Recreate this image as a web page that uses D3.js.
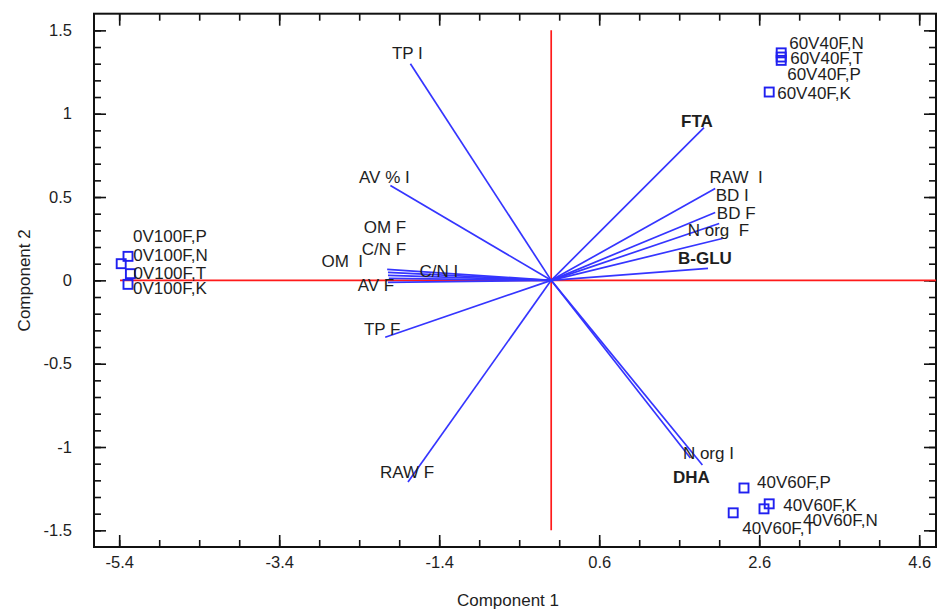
<html>
<head>
  <script src="https://d3js.org/d3.v7.min.js"></script>
  <style>
    body { margin: 0; background: #fff; }
    text { font-family: "Liberation Sans", Arial, sans-serif; fill: #1e1e1e; }
    .axis line { stroke: #111; stroke-width: 1.6px; }
    .axis .domain { stroke: none; }
    .axis text { font-size: 16.5px; }
    .frame { fill: none; stroke: #111; stroke-width: 2px; }
    .vec { stroke: #3535ff; stroke-width: 1.7px; }
    .ref { stroke: #ff1a1a; stroke-width: 1.7px; }
    .obs { fill: none; stroke: #2020f0; stroke-width: 1.9px; }
    .lbl { font-size: 17px; white-space: pre; }
  </style>
</head>
<body>
  <svg id="biplot" width="938" height="610"></svg>
  <script>
    // variable loadings (Component 1, Component 2)
    const varNames = ["TP I", "AV % I", "FTA", "RAW  I", "BD I", "BD F", "N org  F", "B-GLU",
      "OM F", "C/N F", "OM  I", "AV F", "C/N I", "TP F", "RAW F", "N org I", "DHA"];
    const varComp1 = [-1.76, -2.01, 1.91, 2.05, 2.05, 2.10, 2.14, 1.96,
      -2.04, -2.04, -2.05, -2.04, -2.03, -2.075, -1.79, 1.74, 1.89];
    const varComp2 = [1.30, 0.569, 0.916, 0.551, 0.407, 0.341, 0.251, 0.072,
      0.048, 0.03, 0.066, -0.012, 0.012, -0.341, -1.21, -1.066, -1.108];
    const boldVars = ["FTA", "B-GLU", "DHA"];

    // observation scores
    const obsNames = ["60V40F,N", "60V40F,T", "60V40F,P", "60V40F,K",
      "0V100F,P", "0V100F,N", "0V100F,T", "0V100F,K",
      "40V60F,P", "40V60F,K", "40V60F,N", "40V60F,T"];
    const obsComp1 = [2.875, 2.875, 2.875, 2.725, -5.29, -5.375, -5.26, -5.29, 2.41, 2.725, 2.66, 2.275];
    const obsComp2 = [1.365, 1.34, 1.32, 1.13, 0.144, 0.10, 0.04, -0.024, -1.246, -1.341, -1.371, -1.395];

    // axis ticks
    const xTickLabels = [-5.4, -3.4, -1.4, 0.6, 2.6, 4.6];
    const yTickLabels = [-1.5, -1, -0.5, 0, 0.5, 1, 1.5];

    // red reference axes
    const refHoriz = [-5.39, 4.81];
    const refVert = [-1.5, 1.5];

    // label nudges in px so the texts don't pile up (layout only)
    const varNudge = {
      "TP I": [-3, -1], "AV % I": [-6, 2], "FTA": [-7, 3], "RAW  I": [21, -1], "BD I": [17, -7],
      "BD F": [17, 0], "N org  F": [-4, 2], "B-GLU": [-3, 0], "OM F": [-3, -35], "C/N F": [-4, -16],
      "OM  I": [-45, 2], "AV F": [-12, 13], "C/N I": [50, 3], "TP F": [-3, 2], "RAW F": [-1, 0],
      "N org I": [18, 5], "DHA": [-11, 22]
    };
    const obsNudge = {
      "60V40F,N": [0, -10], "60V40F,T": [1, 1], "60V40F,P": [-2, 14], "60V40F,K": [0, 1],
      "0V100F,P": [-3, -20], "0V100F,N": [4, -9], "0V100F,T": [-5, -1], "0V100F,K": [-3, 4],
      "40V60F,P": [5, -6], "40V60F,K": [6, 1], "40V60F,N": [31, 11], "40V60F,T": [1, 15]
    };

    const svg = d3.select("svg#biplot");
    const box = { left: 94, right: 936, top: 13.7, bottom: 547 };

    const x = d3.scaleLinear().domain([-5.715, 4.81]).range([box.left, box.right]);
    const y = d3.scaleLinear().domain([-1.6, 1.6]).range([box.bottom, box.top]);

    const xMinor = d3.range(0, 21).map(i => -5.4 + i * 0.5).filter(v => v < 4.8);
    const yMinor = d3.range(-15, 16).map(i => i / 10);

    // ticks on all four sides, pointing inward
    const axes = svg.append("g").attr("class", "axis-all");

    axes.append("g").attr("class", "axis")
      .attr("transform", `translate(0,${box.bottom})`)
      .call(d3.axisBottom(x).tickValues(xMinor).tickSize(-7).tickFormat(""));
    axes.append("g").attr("class", "axis")
      .attr("transform", `translate(0,${box.bottom})`)
      .call(d3.axisBottom(x).tickValues(xTickLabels).tickSize(-12).tickPadding(9).tickFormat(d => String(d)));
    axes.append("g").attr("class", "axis")
      .attr("transform", `translate(0,${box.top})`)
      .call(d3.axisTop(x).tickValues(xMinor).tickSize(-7).tickFormat(""));
    axes.append("g").attr("class", "axis")
      .attr("transform", `translate(0,${box.top})`)
      .call(d3.axisTop(x).tickValues(xTickLabels).tickSize(-12).tickFormat(""));

    axes.append("g").attr("class", "axis")
      .attr("transform", `translate(${box.left},0)`)
      .call(d3.axisLeft(y).tickValues(yMinor).tickSize(-7).tickFormat(""));
    axes.append("g").attr("class", "axis")
      .attr("transform", `translate(${box.left},0)`)
      .call(d3.axisLeft(y).tickValues(yTickLabels).tickSize(-12).tickPadding(22).tickFormat(d => String(d)));
    axes.append("g").attr("class", "axis")
      .attr("transform", `translate(${box.right},0)`)
      .call(d3.axisRight(y).tickValues(yMinor).tickSize(-7).tickFormat(""));
    axes.append("g").attr("class", "axis")
      .attr("transform", `translate(${box.right},0)`)
      .call(d3.axisRight(y).tickValues(yTickLabels).tickSize(-12).tickFormat(""));

    svg.append("rect").attr("class", "frame")
      .attr("x", box.left).attr("y", box.top)
      .attr("width", box.right - box.left).attr("height", box.bottom - box.top);

    // red reference lines through origin
    svg.append("line").attr("class", "ref")
      .attr("x1", x(refHoriz[0])).attr("x2", x(refHoriz[1]))
      .attr("y1", y(0)).attr("y2", y(0));
    svg.append("line").attr("class", "ref")
      .attr("x1", x(0)).attr("x2", x(0))
      .attr("y1", y(refVert[0])).attr("y2", y(refVert[1]));

    const vars = varNames.map((n, i) => ({ name: n, c1: varComp1[i], c2: varComp2[i] }));
    const obs = obsNames.map((n, i) => ({ name: n, c1: obsComp1[i], c2: obsComp2[i] }));

    svg.append("g").selectAll("line").data(vars).join("line")
      .attr("class", "vec")
      .attr("x1", x(0)).attr("y1", y(0))
      .attr("x2", d => x(d.c1)).attr("y2", d => y(d.c2));

    svg.append("g").selectAll("text").data(vars).join("text")
      .attr("class", "lbl")
      .attr("text-anchor", "middle")
      .attr("dy", "0.35em")
      .attr("x", d => x(d.c1) + varNudge[d.name][0])
      .attr("y", d => y(d.c2) - 10 + varNudge[d.name][1])
      .attr("font-weight", d => boldVars.includes(d.name) ? "bold" : "normal")
      .text(d => d.name);

    const sq = 9;
    svg.append("g").selectAll("rect").data(obs).join("rect")
      .attr("class", "obs")
      .attr("x", d => x(d.c1) - sq / 2).attr("y", d => y(d.c2) - sq / 2)
      .attr("width", sq).attr("height", sq);

    svg.append("g").selectAll("text").data(obs).join("text")
      .attr("class", "lbl")
      .attr("dy", "0.35em")
      .attr("x", d => x(d.c1) + 8 + obsNudge[d.name][0])
      .attr("y", d => y(d.c2) + obsNudge[d.name][1])
      .text(d => d.name);

    // axis titles
    svg.append("text").attr("font-size", 17)
      .attr("text-anchor", "middle")
      .attr("x", 508).attr("y", 606)
      .text("Component 1");
    svg.append("text").attr("font-size", 17)
      .attr("text-anchor", "middle")
      .attr("transform", `translate(30,${y(0)}) rotate(-90)`)
      .text("Component 2");
  </script>
</body>
</html>
